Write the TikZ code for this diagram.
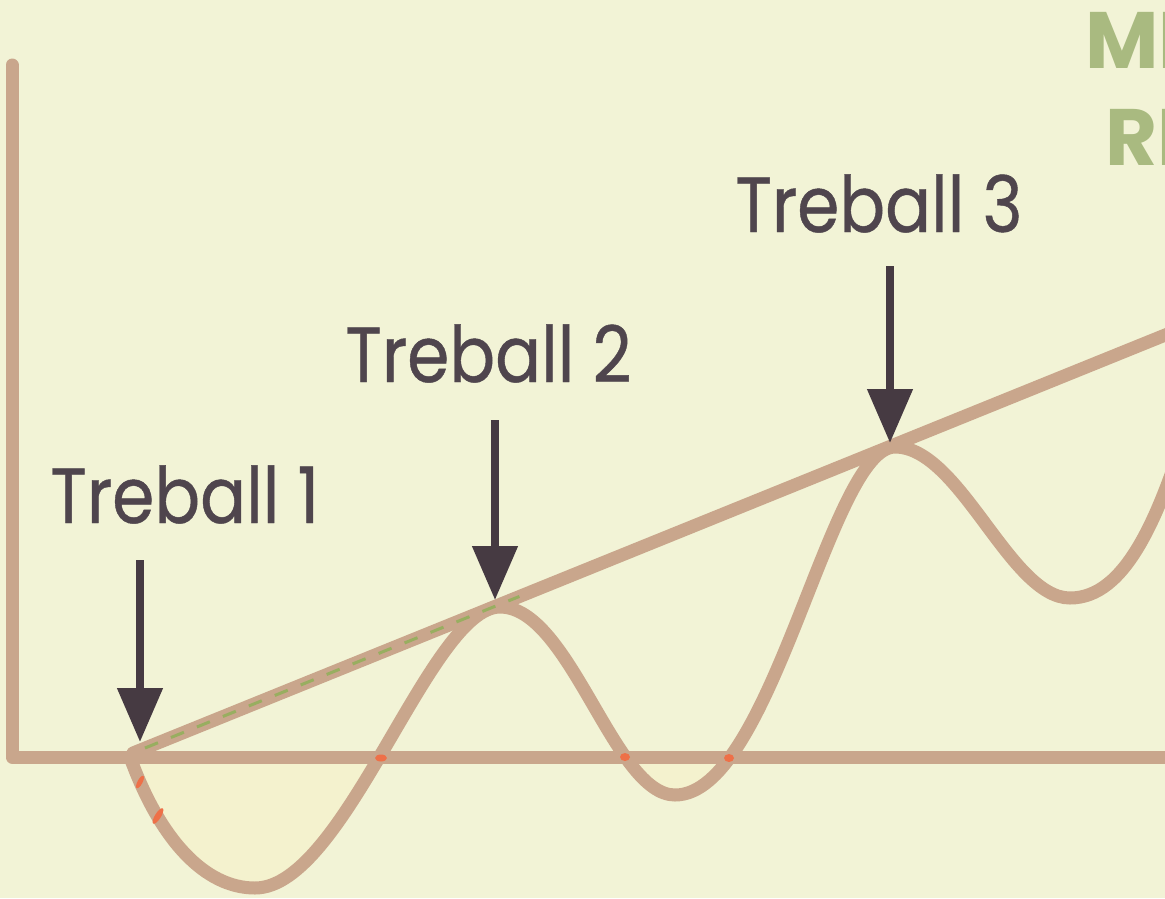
\documentclass[tikz,border=0pt]{standalone}
\usepackage{fontspec}
\setmainfont{Poppins}
\usetikzlibrary{arrows.meta,calc}
\definecolor{bg}{HTML}{F2F3D6}
\definecolor{tan}{HTML}{C9A68C}
\definecolor{ink}{HTML}{4F454D}
\definecolor{arrowink}{HTML}{463A42}
\definecolor{greentxt}{HTML}{A9BA80}
\definecolor{greendash}{HTML}{98AE60}
\definecolor{fillpale}{HTML}{F4F2CE}
\definecolor{redmark}{HTML}{EE7048}
\tikzset{
  axisline/.style={draw=tan, line width=13pt, line cap=round, line join=round},
  wave/.style={draw=tan, line width=13pt, line cap=round},
  label/.style={text=ink, font=\fontsize{78}{86}\selectfont\addfontfeature{FakeBold=0.6}, inner sep=0pt, anchor=base west},
  pointer/.style={draw=arrowink, line width=8pt, -{Triangle[width=44pt,length=54pt]}},
  corner/.style={text=greentxt, font=\bfseries\fontsize{80}{88}\selectfont, inner sep=0pt, anchor=base west}
}
\newcommand{\narrow}[1]{\scalebox{0.87}[1]{#1}}
\begin{document}
\begin{tikzpicture}[x=1pt,y=-1pt]
\useasboundingbox (0,0) rectangle (1165,898);
\clip (0,0) rectangle (1165,898);
\fill[bg] (0,0) rectangle (1165,898);
% key points
\coordinate (O) at (12,757);
\coordinate (Ytop) at (12,65);
\coordinate (Xend) at (1175,757);
\coordinate (L0) at (133,753);
\coordinate (L1) at (1185,327);
\coordinate (S) at (130,757);
\coordinate (m1) at (255,888);
\coordinate (M1) at (500,607);
\coordinate (m2) at (675,795);
\coordinate (M2) at (895,447);
\coordinate (m3) at (1070,598);
\coordinate (E) at (1195,400);
% pale fills of lobes
\begin{scope}
\clip (0,757) rectangle (1165,898);
\fill[fillpale] (S) .. controls (160,840) and (205,888) .. (m1)
  .. controls (345,888) and (430,607) .. (M1) -- cycle;
\fill[fillpale] (M1) .. controls (570,607) and (614,795) .. (m2)
  .. controls (772,795) and (830,447) .. (M2) -- cycle;
\end{scope}
% axes
\draw[axisline] (Ytop) -- (O) -- (Xend);
% wave
\draw[wave] (S) .. controls (160,840) and (205,888) .. (m1)
  .. controls (345,888) and (430,607) .. (M1)
  .. controls (570,607) and (614,795) .. (m2)
  .. controls (772,795) and (830,447) .. (M2)
  .. controls (960,447) and (1010,598) .. (m3)
  .. controls (1125,598) and (1160,520) .. (E);
% straight envelope line
\draw[wave] (L0) -- (L1);
\draw[greendash, line width=3pt, dash pattern=on 14pt off 14pt] (145,748) -- ($(145,748)!0.36!(L1)$);
% red marks
\fill[redmark, rotate around={62:(140,782)}] (140,782) ellipse (7pt and 2.5pt);
\fill[redmark, rotate around={58:(158,816)}] (158,816) ellipse (9pt and 3pt);
\fill[redmark] (381,758) ellipse (6pt and 3.5pt);
\fill[redmark] (625,757) ellipse (5pt and 4pt);
\fill[redmark] (729,758) ellipse (5pt and 4pt);
% labels
\node[label] (t1) at (50,523) {\narrow{Treball 1}};
\node[label] (t2) at (345,382) {\narrow{Treball 2}};
\node[label] (t3) at (735,232) {\narrow{Treball 3}};
\coordinate (a1s) at (140,560);
\coordinate (a1e) at (140,742);
\coordinate (a2s) at (495,420);
\coordinate (a2e) at (495,600);
\coordinate (a3s) at (890,266);
\coordinate (a3e) at (890,443);
\draw[pointer] (a1s) -- (a1e);
\draw[pointer] (a2s) -- (a2e);
\draw[pointer] (a3s) -- (a3e);
% corner text (cut off by the right edge, as in the reference)
\node[corner] (c1) at (1085,68) {ME};
\node[corner] (c2) at (1105,165) {RE};
\end{tikzpicture}
\end{document}
